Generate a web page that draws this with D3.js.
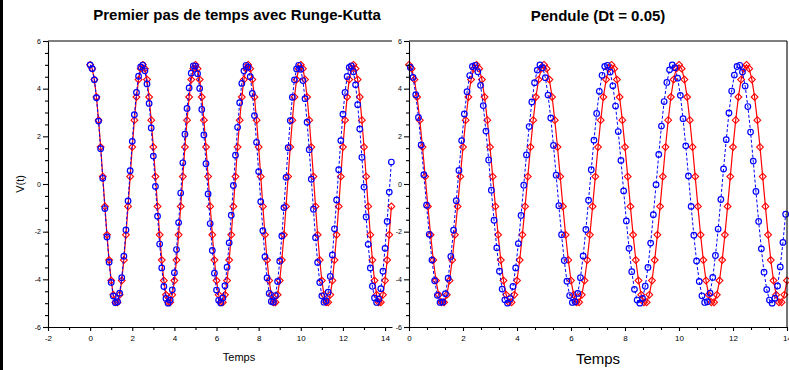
<!DOCTYPE html>
<html>
<head>
<meta charset="utf-8">
<script src="https://cdn.jsdelivr.net/npm/d3@7"></script>
<style>
  body { margin: 0; background: #fff; }
  svg { display: block; }
  text { font-family: "Liberation Sans", Arial, Helvetica, sans-serif; fill: #000; }
</style>
</head>
<body>
<svg id="fig" width="789" height="370"></svg>
<script>
// Sampling step of the plotted points (s)
const dt = 0.1;

// Left panel: reference solution (red) and scheme started with one Runge-Kutta step (blue)
const redLeft = [
  5.00, 4.84, 4.38, 3.65, 2.68, 1.55, 0.31, -0.94, -2.13, -3.19, -4.05, -4.65, -4.96, -4.96, -4.65, -4.05, -3.19, -2.13, -0.94, 0.31, 1.55, 2.68, 3.65, 4.38, 4.84,
  5.00, 4.84, 4.38, 3.65, 2.68, 1.55, 0.31, -0.94, -2.13, -3.19, -4.05, -4.65, -4.96, -4.96, -4.65, -4.05, -3.19, -2.13, -0.94, 0.31, 1.55, 2.68, 3.65, 4.38, 4.84,
  5.00, 4.84, 4.38, 3.65, 2.68, 1.55, 0.31, -0.94, -2.13, -3.19, -4.05, -4.65, -4.96, -4.96, -4.65, -4.05, -3.19, -2.13, -0.94, 0.31, 1.55, 2.68, 3.65, 4.38, 4.84,
  5.00, 4.84, 4.38, 3.65, 2.68, 1.55, 0.31, -0.94, -2.13, -3.19, -4.05, -4.65, -4.96, -4.96, -4.65, -4.05, -3.19, -2.13, -0.94, 0.31, 1.55, 2.68, 3.65, 4.38, 4.84,
  5.00, 4.84, 4.38, 3.65, 2.68, 1.55, 0.31, -0.94, -2.13, -3.19, -4.05, -4.65, -4.96, -4.96, -4.65, -4.05, -3.19, -2.13, -0.94, 0.31, 1.55, 2.68, 3.65, 4.38, 4.84,
  5.00, 4.84, 4.38, 3.65, 2.68, 1.55, 0.31, -0.94, -2.13, -3.19, -4.05, -4.65, -4.96, -4.96, -4.65, -4.05, -3.19, -2.13, -0.94
];
const blueLeft = [
  5.00, 4.84, 4.37, 3.62, 2.64, 1.48, 0.24, -1.03, -2.22, -3.28,
  -4.13, -4.70, -4.98, -4.94, -4.58, -3.93, -3.03, -1.93, -0.71, 0.56,
  1.79, 2.91, 3.84, 4.52, 4.91, 4.99, 4.75, 4.20, 3.38, 2.35,
  1.17, -0.10, -1.35, -2.52, -3.52, -4.30, -4.80, -5.00, -4.87, -4.44,
  -3.72, -2.75, -1.62, -0.38, 0.89, 2.09, 3.17, 4.03, 4.65, 4.96,
  4.95, 4.63, 4.01, 3.13, 2.06, 0.85, -0.42, -1.66, -2.79, -3.74,
  -4.45, -4.88, -4.99, -4.78, -4.27, -3.49, -2.47, -1.31, -0.06, 1.21,
  2.38, 3.41, 4.22, 4.75, 4.98, 4.90, 4.50, 3.80, 2.87, 1.75,
  0.52, -0.74, -1.96, -3.05, -3.94, -4.59, -4.93, -4.96, -4.68, -4.09,
  -3.24, -2.18, -0.99, 0.28, 1.52, 2.66, 3.64, 4.37, 4.83, 4.98,
  4.81, 4.34, 3.58, 2.59, 1.44, 0.20, -1.06, -2.25, -3.29, -4.13,
  -4.69, -4.96, -4.91, -4.54, -3.88, -2.98, -1.88, -0.67, 0.60, 1.82,
  2.93, 3.84, 4.51, 4.89, 4.96, 4.71, 4.16, 3.33, 2.31, 1.12,
  -0.13, -1.38, -2.53, -3.52, -4.29, -4.78, -4.97, -4.83, -4.39, -3.66,
  -2.70, -1.57, -0.34, 0.92
];

// Right panel: reference solution (red) and scheme with Dt = 0.05 (blue, half-step offset)
const redRight = [
  5.00, 4.84, 4.38, 3.65, 2.68, 1.55, 0.31, -0.94, -2.13, -3.19, -4.05, -4.65, -4.96, -4.96, -4.65, -4.05, -3.19, -2.13, -0.94, 0.31, 1.55, 2.68, 3.65, 4.38, 4.84,
  5.00, 4.84, 4.38, 3.65, 2.68, 1.55, 0.31, -0.94, -2.13, -3.19, -4.05, -4.65, -4.96, -4.96, -4.65, -4.05, -3.19, -2.13, -0.94, 0.31, 1.55, 2.68, 3.65, 4.38, 4.84,
  5.00, 4.84, 4.38, 3.65, 2.68, 1.55, 0.31, -0.94, -2.13, -3.19, -4.05, -4.65, -4.96, -4.96, -4.65, -4.05, -3.19, -2.13, -0.94, 0.31, 1.55, 2.68, 3.65, 4.38, 4.84,
  5.00, 4.84, 4.38, 3.65, 2.68, 1.55, 0.31, -0.94, -2.13, -3.19, -4.05, -4.65, -4.96, -4.96, -4.65, -4.05, -3.19, -2.13, -0.94, 0.31, 1.55, 2.68, 3.65, 4.38, 4.84,
  5.00, 4.84, 4.38, 3.65, 2.68, 1.55, 0.31, -0.94, -2.13, -3.19, -4.05, -4.65, -4.96, -4.96, -4.65, -4.05, -3.19, -2.13, -0.94, 0.31, 1.55, 2.68, 3.65, 4.38, 4.84,
  5.00, 4.84, 4.38, 3.65, 2.68, 1.55, 0.31, -0.94, -2.13, -3.19, -4.05, -4.65, -4.96, -4.96, -4.65, -4.05
];
const blueRight = [
  4.89, 4.47, 3.75, 2.79, 1.64, 0.39, -0.89, -2.11, -3.19, -4.06,
  -4.67, -4.97, -4.95, -4.60, -3.95, -3.04, -1.94, -0.70, 0.57, 1.82,
  2.94, 3.87, 4.55, 4.93, 4.98, 4.71, 4.14, 3.29, 2.22, 1.01,
  -0.26, -1.52, -2.68, -3.66, -4.41, -4.86, -5.00, -4.81, -4.30, -3.52,
  -2.50, -1.32, -0.05, 1.22, 2.41, 3.44, 4.25, 4.78, 5.00, 4.88,
  4.46, 3.73, 2.77, 1.62, 0.37, -0.91, -2.13, -3.21, -4.08, -4.68,
  -4.97, -4.94, -4.59, -3.93, -3.02, -1.91, -0.68, 0.60, 1.84, 2.96,
  3.89, 4.56, 4.93, 4.98, 4.70, 4.12, 3.27, 2.20, 0.99, -0.29,
  -1.55, -2.70, -3.68, -4.42, -4.87, -5.00, -4.80, -4.29, -3.50, -2.48,
  -1.29, -0.03, 1.24, 2.43, 3.46, 4.26, 4.79, 5.00, 4.88, 4.44,
  3.72, 2.74, 1.60, 0.34, -0.94, -2.15, -3.23, -4.09, -4.69, -4.97,
  -4.94, -4.58, -3.92, -3.00, -1.89, -0.65, 0.63, 1.86, 2.98, 3.90,
  4.57, 4.93, 4.98, 4.70, 4.11, 3.25, 2.18, 0.96, -0.31, -1.57,
  -2.72, -3.70, -4.43, -4.87, -5.00, -4.79, -4.28, -3.48, -2.45, -1.27
];

// Axis ticks and labels
const yTicks = [-6, -4, -2, 0, 2, 4, 6];
const xTicksLeft = [-2, 0, 2, 4, 6, 8, 10, 12, 14];
const xTicksRight = [0, 2, 4, 6, 8, 10, 12, 14];
const titles = ["Premier pas de temps avec Runge-Kutta", "Pendule (Dt = 0.05)"];
const xAxisLabel = "Temps";
const yAxisLabel = "V(t)";

const svg = d3.select("#fig");
svg.append("rect").attr("width", 789).attr("height", 370).attr("fill", "#fff");
// window frame edge on the left
svg.append("rect").attr("x", 0).attr("y", 0).attr("width", 3).attr("height", 370).attr("fill", "#000");

const yTop = 41, yBottom = 327;

const panels = [
  {
    title: titles[0], titleX: 237, titleY: 20,
    xDomain: [-2, 14.33], xRange: [48, 392],
    xTicks: xTicksLeft, xMinor: d3.range(-1, 15, 2),
    labelX: 239, labelY: 361, labelSize: 11,
    box: false, showYLabel: true,
    series: [
      { values: redLeft, t0: 0, color: "#ff0000", mark: "diamond", dash: null },
      { values: blueLeft, t0: 0, color: "#0000ff", mark: "circle", dash: "3,2" }
    ]
  },
  {
    title: titles[1], titleX: 598, titleY: 20.5,
    xDomain: [0, 14], xRange: [409, 787],
    xTicks: xTicksRight, xMinor: d3.range(0, 14.01, 2 / 3).filter((d, i) => i % 3 !== 0),
    labelX: 598, labelY: 364, labelSize: 15,
    box: true, showYLabel: false,
    series: [
      { values: redRight, t0: 0, color: "#ff0000", mark: "diamond", dash: null },
      { values: blueRight, t0: 0.05, color: "#0000ff", mark: "circle", dash: "3,2" }
    ]
  }
];

const fmt = d => String(d);

panels.forEach(p => {
  const x = d3.scaleLinear().domain(p.xDomain).range(p.xRange);
  const y = d3.scaleLinear().domain([-6, 6]).range([yBottom, yTop]);
  const g = svg.append("g");

  // data: each curve with its markers
  p.series.forEach(s => {
    const pts = s.values.map((v, i) => [s.t0 + i * dt, v]);
    const line = d3.line().x(d => x(d[0])).y(d => y(d[1]));
    g.append("path")
      .attr("d", line(pts))
      .attr("fill", "none")
      .attr("stroke", s.color)
      .attr("stroke-width", s.dash ? 1 : 1.2)
      .attr("stroke-dasharray", s.dash);
    if (s.mark === "circle") {
      g.selectAll(null).data(pts).enter().append("circle")
        .attr("cx", d => x(d[0])).attr("cy", d => y(d[1]))
        .attr("r", 2.8)
        .attr("fill", "none").attr("stroke", s.color).attr("stroke-width", 1.2);
    } else {
      const r = 3.4;
      g.selectAll(null).data(pts).enter().append("path")
        .attr("transform", d => `translate(${x(d[0])},${y(d[1])})`)
        .attr("d", `M0,${-r}L${r},0L0,${r}L${-r},0Z`)
        .attr("fill", "none").attr("stroke", s.color).attr("stroke-width", 1.1);
    }
  });

  // x axis (major + minor ticks)
  const gx = g.append("g").attr("transform", `translate(0,${yBottom})`)
    .call(d3.axisBottom(x).tickValues(p.xTicks).tickFormat(fmt).tickSize(4).tickSizeOuter(0).tickPadding(4));
  g.append("g").attr("transform", `translate(0,${yBottom})`)
    .call(d3.axisBottom(x).tickValues(p.xMinor).tickFormat("").tickSize(3).tickSizeOuter(0))
    .select(".domain").remove();
  gx.selectAll("text").attr("font-size", 8).attr("font-family", null);

  // y axis (major + minor ticks)
  const gy = g.append("g").attr("transform", `translate(${p.xRange[0]},0)`)
    .call(d3.axisLeft(y).tickValues(yTicks).tickFormat(fmt).tickSize(5).tickSizeOuter(0).tickPadding(2));
  g.append("g").attr("transform", `translate(${p.xRange[0]},0)`)
    .call(d3.axisLeft(y).tickValues(d3.range(-5.5, 6, 0.5).filter(d => d % 2 !== 0)).tickFormat("").tickSize(3).tickSizeOuter(0))
    .select(".domain").remove();
  gy.selectAll("text").attr("font-size", 7).attr("font-family", null);

  g.selectAll(".domain, .tick line").attr("stroke", "#000").attr("stroke-width", 1.1);

  // frame: top edge, right edge when the box is closed
  g.append("line").attr("x1", p.xRange[0]).attr("x2", p.xRange[1]).attr("y1", yTop).attr("y2", yTop)
    .attr("stroke", "#000").attr("stroke-width", 1.1);
  if (p.box) {
    g.append("line").attr("x1", p.xRange[1]).attr("x2", p.xRange[1]).attr("y1", yTop).attr("y2", yBottom)
      .attr("stroke", "#000").attr("stroke-width", 1.1);
  }

  // titles and labels
  g.append("text").attr("x", p.titleX).attr("y", p.titleY)
    .attr("text-anchor", "middle").attr("font-size", 15).attr("font-weight", "bold").text(p.title);
  g.append("text").attr("x", p.labelX).attr("y", p.labelY)
    .attr("text-anchor", "middle").attr("font-size", p.labelSize).text(xAxisLabel);
  if (p.showYLabel) {
    g.append("text").attr("transform", `translate(24,184) rotate(-90)`)
      .attr("text-anchor", "middle").attr("font-size", 11).text(yAxisLabel);
  }
});
</script>
</body>
</html>
